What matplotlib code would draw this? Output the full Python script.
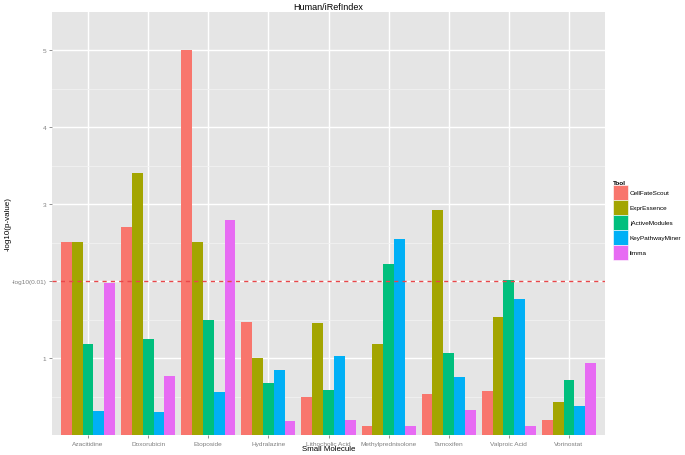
import numpy as np
import matplotlib
matplotlib.use('Agg')
import matplotlib.pyplot as plt
from matplotlib.patches import Patch

plt.rcParams['font.family'] = ['Liberation Sans', 'DejaVu Sans']

# values (-log10 p-value)
molecules = ['Azacitidine', 'Doxorubicin', 'Etoposide', 'Hydralazine', 'Lithocholic Acid',
             'Methylprednisolone', 'Tamoxifen', 'Valproic Acid', 'Vorinostat']
tools = ['CellFateScout', 'ExprEssence', 'jActiveModules', 'KeyPathwayMiner', 'limma']
cellfatescout = [2.51, 2.70, 5.00, 1.47, 0.50, 0.12, 0.53, 0.57, 0.19]
expressence = [2.51, 3.40, 2.51, 1.00, 1.46, 1.18, 2.92, 1.53, 0.43]
jactivemodules = [1.18, 1.25, 1.49, 0.68, 0.58, 2.22, 1.06, 2.01, 0.71]
keypathwayminer = [0.31, 0.30, 0.56, 0.84, 1.03, 2.55, 0.75, 1.77, 0.38]
limma = [1.97, 0.77, 2.80, 0.18, 0.20, 0.12, 0.32, 0.12, 0.94]
colors = ['#F8766D', '#A3A500', '#00BF7D', '#00B0F6', '#E76BF3']

series = [cellfatescout, expressence, jactivemodules, keypathwayminer, limma]

fig = plt.figure(figsize=(6.85, 4.56), dpi=100)
ax = fig.add_axes([52 / 685, 1 - 436 / 456, (605 - 52) / 685, (436 - 12.7) / 456])
ax.set_facecolor('#E5E5E5')

x = np.arange(len(molecules))
w = 0.9 / len(tools)
for i, (vals, col) in enumerate(zip(series, colors)):
    ax.bar(x - 0.45 + w * (i + 0.5), vals, width=w, color=col, zorder=3, linewidth=0)

ax.axhline(2, color='#E8474A', linestyle=(0, (3, 3)), linewidth=1.0, zorder=4)

ax.set_xlim(-0.6, len(molecules) - 0.4)
ax.set_ylim(0, 5.5)
ax.set_xticks(x)
ax.set_xticklabels(molecules)
ax.set_yticks([1, 2, 3, 4, 5])
ax.set_yticklabels(['1', '-log10(0.01)', '3', '4', '5'])
ax.set_yticks([0.5, 1.5, 2.5, 3.5, 4.5], minor=True)

ax.grid(which='major', color='white', linewidth=1.0, zorder=0)
ax.grid(which='minor', axis='y', color='#F2F2F2', linewidth=0.6, zorder=0)
ax.set_axisbelow(True)
for s in ax.spines.values():
    s.set_visible(False)
ax.tick_params(which='major', length=2.5, width=0.6, color='#7F7F7F', labelcolor='#7F7F7F',
               labelsize=4.65, pad=1.5)
ax.tick_params(which='minor', length=0)

ax.set_title('Human/iRefIndex', fontsize=6.5, pad=2)
ax.set_xlabel('Small Molecule', fontsize=5.7)
ax.set_ylabel('-log10(p-value)', fontsize=5.8)
ax.xaxis.set_label_coords(0.5, (436 - 450) / 423.3, transform=ax.transAxes)
ax.yaxis.set_label_coords((8 - 52) / 553, 0.5, transform=ax.transAxes)
ax.xaxis.label.set_va('center')
ax.yaxis.label.set_va('center')

# legend keys ~15x15 px, stacked with no gap
handles = [Patch(facecolor=c, edgecolor='white', linewidth=0.4) for c in colors]
leg = fig.legend(handles, tools, loc='upper left', bbox_to_anchor=(613 / 685, 1 - 181 / 456),
                 frameon=False, fontsize=4.55, title='Tool', handlelength=2.37, handleheight=3.27,
                 labelspacing=0.0, handletextpad=0.3, borderaxespad=0, borderpad=0)
leg.get_title().set_fontsize(4.6)
leg.get_title().set_fontweight('bold')
leg._legend_box.align = 'left'

fig.savefig('out.png', dpi=100)
